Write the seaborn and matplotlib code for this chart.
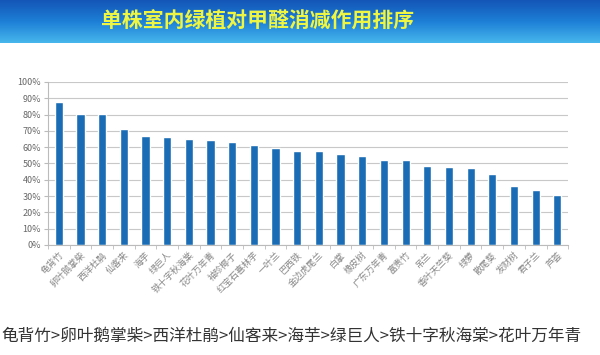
import numpy as np
import pandas as pd
import seaborn as sns
import matplotlib.pyplot as plt
from matplotlib.ticker import PercentFormatter, FixedLocator
from matplotlib.colors import LinearSegmentedColormap

# plants ranked by formaldehyde reduction (single pot)
plants = ['龟背竹', '卵叶鹅掌柴', '西洋杜鹃', '仙客来', '海芋', '绿巨人',
          '铁十字秋海棠', '花叶万年青', '袖珍椰子', '红宝石喜林芋', '一叶兰',
          '巴西铁', '金边虎尾兰', '白掌', '橡皮树', '广东万年青', '富贵竹',
          '吊兰', '香叶天竺葵', '绿萝', '散尾葵', '发财树', '君子兰', '芦荟']
reduction = [87.9, 80.6, 80.4, 71.2, 66.7, 66.0, 65.2, 64.2, 63.3, 61.5, 59.8,
             57.5, 57.5, 56.0, 54.8, 52.3, 52.3, 48.4, 47.6, 47.2, 43.3, 36.4,
             33.9, 30.4]
title = '单株室内绿植对甲醛消减作用排序'
ranking_text = '龟背竹>卵叶鹅掌柴>西洋杜鹃>仙客来>海芋>绿巨人>铁十字秋海棠>花叶万年青'

df = pd.DataFrame({'plant': plants, 'reduction': reduction})

sns.set_style('white')
plt.rcParams['font.family'] = ['Noto Sans CJK SC', 'DejaVu Sans']

fig = plt.figure(figsize=(6, 3.55), dpi=100)

# gradient banner on top
banner = fig.add_axes([0, 1 - 43 / 355, 1, 43 / 355])
grad = np.linspace(0, 1, 64).reshape(-1, 1)
cmap = LinearSegmentedColormap.from_list('banner', ['#1456b8', '#1d7fd6', '#46b6ec'])
banner.imshow(grad, aspect='auto', cmap=cmap, extent=[0, 1, 0, 1])
banner.set_axis_off()
banner.text(0.43, 0.5, title, ha='center', va='center', fontsize=15,
            fontweight='bold', color='#eef542', transform=banner.transAxes)

ax = fig.add_axes([0.08, 1 - 245 / 355, 0.867, (245 - 82) / 355])
sns.barplot(data=df, x='plant', y='reduction', color='#1a6db5', width=0.38,
            saturation=1, ax=ax)

ax.set_ylim(0, 100)
ax.set_xlim(-0.5, len(plants) - 0.5)
ax.yaxis.set_major_locator(FixedLocator(np.arange(0, 101, 10)))
ax.yaxis.set_major_formatter(PercentFormatter(decimals=0))
ax.grid(axis='y', color='#c8c8c8', linewidth=0.8)
ax.set_axisbelow(True)
ax.set_xlabel('')
ax.set_ylabel('')

for s in ['top', 'right']:
    ax.spines[s].set_visible(False)
for s in ['left', 'bottom']:
    ax.spines[s].set_color('#bbbbbb')
    ax.spines[s].set_linewidth(0.8)

ax.tick_params(axis='y', labelsize=6.5, labelcolor='#666666', length=3,
               color='#bbbbbb', left=True, pad=2)
ax.set_xticks(range(len(plants)))
ax.set_xticklabels(plants, rotation=45, ha='right', rotation_mode='anchor',
                   fontsize=6.5, color='#888888')
ax.tick_params(axis='x', which='major', length=0, pad=4)
ax.set_xticks(np.arange(-0.5, len(plants), 1), minor=True)
ax.tick_params(axis='x', which='minor', length=3, color='#bbbbbb', bottom=True)

fig.text(0.003, 1 - 336 / 355, ranking_text, ha='left', va='center',
         fontsize=12, color='#333333')

fig.savefig('out.png', dpi=100)
